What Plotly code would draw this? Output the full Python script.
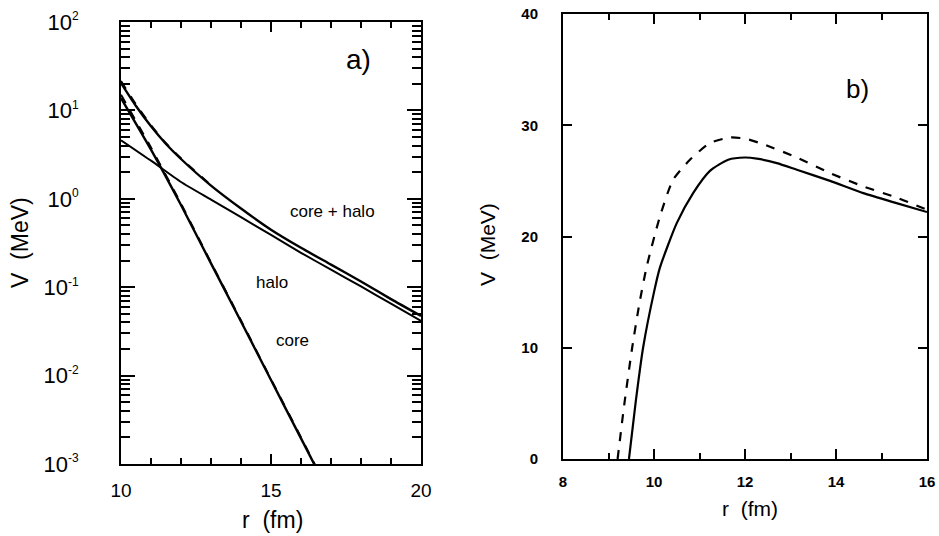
import plotly.graph_objects as go

# ---------------- Panel a) data (log scale) ----------------
r_core = [10, 11, 12, 13, 14, 15, 16, 16.5]
v_core = [13.8, 3.6, 0.85, 0.186, 0.041, 0.0089, 0.00195, 0.00091]
v_core_dash = [15.0, 3.8, 0.88, 0.19, 0.042, 0.0091, 0.0020, 0.00093]

r_halo = [10, 11, 12, 13, 14, 15, 16, 17, 18, 19, 20]
v_halo = [4.6, 2.7, 1.55, 0.98, 0.62, 0.39, 0.245, 0.158, 0.102, 0.065, 0.0417]

r_sum = [10, 10.5, 11, 11.5, 12, 13, 14, 15, 16, 17, 18, 19, 20]
v_sum = [20.4, 11.2, 6.6, 4.17, 2.82, 1.41, 0.776, 0.447, 0.279, 0.180, 0.116, 0.0733, 0.0473]
r_sum_dash = [10, 10.5, 11, 11.5, 12, 13]
v_sum_dash = [21.5, 11.7, 6.8, 4.25, 2.87, 1.43]

a_ytickvals = [1e-3, 1e-2, 1e-1, 1e0, 1e1, 1e2]
a_yexponents = ["-3", "-2", "-1", "0", "1", "2"]
a_yticktext = ["10<sup><span style='font-size:12px'>" + e + "</span></sup>"
               for e in a_yexponents]
a_xtickvals = [10, 15, 20]

# ---------------- Panel b) data ----------------
r_solid = [9.45, 9.6, 9.76, 10.0, 10.13, 10.5, 10.86, 11.23, 11.63, 12.0, 12.26,
           12.7, 13.14, 13.87, 14.6, 15.33, 16.0]
v_solid = [0, 5.2, 10, 15, 17.2, 21.2, 23.9, 25.9, 26.9, 27.1, 27.0,
           26.6, 26.0, 25.0, 23.9, 23.0, 22.2]
r_dashed = [9.2, 9.35, 9.52, 9.68, 9.84, 10.13, 10.42, 10.79, 11.23, 11.67, 12.0,
            12.4, 13.14, 13.87, 14.6, 15.33, 16.0]
v_dashed = [0, 5, 10, 14, 17.3, 21.8, 25.1, 26.9, 28.4, 28.9, 28.8,
            28.3, 27.1, 25.7, 24.5, 23.5, 22.4]

b_xtickvals = [8, 10, 12, 14, 16]
b_ytickvals = [0, 10, 20, 30, 40]

FONT = "Liberation Sans"
BLK = "black"

fig = go.Figure()

def add(x, y, xa, ya, dash="solid", w=2.2):
    fig.add_trace(go.Scatter(x=x, y=y, xaxis=xa, yaxis=ya, mode="lines",
                             line=dict(color=BLK, width=w, dash=dash, shape="spline",
                                       smoothing=0.6),
                             showlegend=False, hoverinfo="skip"))

add(r_core, v_core_dash, "x", "y", dash="dash", w=2)
add(r_sum_dash, v_sum_dash, "x", "y", dash="dash", w=2)
add(r_core, v_core, "x", "y", w=2.4)
add(r_halo, v_halo, "x", "y", w=2.0)
add(r_sum, v_sum, "x", "y", w=2.4)

add(r_dashed, v_dashed, "x2", "y2", dash="dash", w=2.2)
add(r_solid, v_solid, "x2", "y2", w=2.2)

axis_common = dict(showline=True, linecolor=BLK, linewidth=2, mirror="ticks",
                   ticks="inside", tickcolor=BLK, tickwidth=1.5, showgrid=False,
                   zeroline=False, automargin=False)

fig.update_layout(
    width=939, height=536,
    margin=dict(l=0, r=0, t=0, b=0, autoexpand=False),
    paper_bgcolor="white", plot_bgcolor="white",
    font=dict(family=FONT, color=BLK),
    xaxis=dict(domain=[121/939, 421/939], range=[10, 20], anchor="y",
               tickmode="array", tickvals=a_xtickvals, ticklen=10,
               minor=dict(ticks="inside", dtick=1, ticklen=6, tickcolor=BLK, tickwidth=1.5),
               tickfont=dict(size=19, family=FONT), ticklabelstandoff=8,
               **axis_common),
    yaxis=dict(domain=[1-464/536, 1-22/536], type="log", range=[-3, 2], anchor="x",
               tickmode="array", tickvals=a_ytickvals, ticktext=a_yticktext, ticklen=14,
               minor=dict(ticks="inside", dtick="D1", ticklen=9, tickcolor=BLK, tickwidth=1.5),
               tickfont=dict(size=22, family=FONT), ticklabelstandoff=36,
               **axis_common),
    xaxis2=dict(domain=[563/939, 927/939], range=[8, 16], anchor="y2",
                tickmode="array", tickvals=b_xtickvals, ticklen=10,
                minor=dict(ticks="inside", dtick=1, ticklen=6, tickcolor=BLK, tickwidth=1.5),
                tickfont=dict(size=15, family=FONT, weight=700), ticklabelstandoff=8,
                **axis_common),
    yaxis2=dict(domain=[1-459/536, 1-14/536], range=[0, 40], anchor="x2",
                tickmode="array", tickvals=b_ytickvals, ticklen=9,
                tickfont=dict(size=15, family=FONT, weight=700), ticklabelstandoff=20,
                **axis_common),
)

def ann(text, x, y, size, angle=0):
    fig.add_annotation(text=text, x=x/939, y=1-y/536, xref="paper", yref="paper",
                       showarrow=False, textangle=angle,
                       font=dict(size=size, family=FONT, color=BLK),
                       xanchor="center", yanchor="middle")

ann("V  (MeV)", 20, 243, 23, -90)
ann("r  (fm)", 272, 520, 23)
ann("a)", 358, 60, 28)
ann("core + halo", 332, 212, 17)
ann("halo", 272, 282, 17)
ann("core", 292, 340, 17)

ann("V  (MeV)", 487, 245, 21, -90)
ann("r  (fm)", 750, 508, 21)
ann("b)", 857, 89, 26)

fig.write_html("out.html")
